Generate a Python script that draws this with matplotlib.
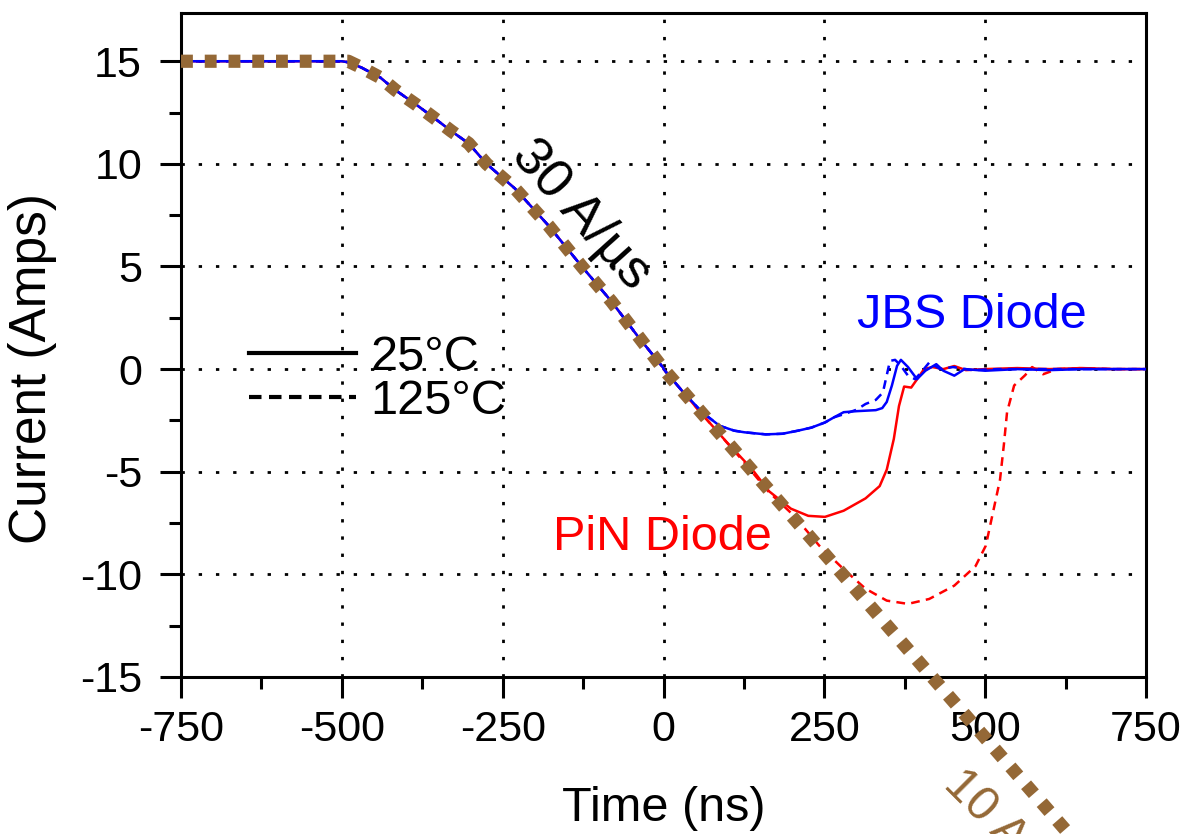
import matplotlib
matplotlib.use("Agg")
import matplotlib.pyplot as plt
from matplotlib.lines import Line2D
from matplotlib.ticker import MultipleLocator

plt.rcParams['font.family'] = ['Liberation Sans', 'DejaVu Sans']
plt.rcParams['axes.unicode_minus'] = False

# common turn-off ramp (all four curves sit on it before t = 0)
ramp_t = [-750, -700, -600, -500, -490, -470, -440, -417, -385, -355, -330, -303,
          -275, -231, -179, -127, -81, -40, 0]
ramp_i = [15.0, 15.0, 15.0, 15.0, 14.95, 14.7, 14.2, 13.6, 12.9, 12.2, 11.6, 11.0,
          10.0, 8.8, 7.0, 5.0, 3.3, 1.6, 0.05]

# JBS diode, 25C
jbs25_t = [0, 30, 60, 87, 110, 126, 159, 185, 209, 230, 251, 265, 280, 300, 330, 340,
           347, 355, 363, 369, 380, 394, 407, 424, 435, 452, 468, 500, 550, 600, 650, 700, 750]
jbs25_i = [0, -1.1, -2.1, -2.76, -3.0, -3.08, -3.18, -3.15, -3.0, -2.85, -2.6, -2.35,
           -2.1, -2.05, -2.0, -1.9, -1.6, -0.8, 0.16, 0.45, 0.1, -0.49, -0.08, 0.24,
           -0.08, -0.32, 0.0, -0.08, 0.0, -0.05, 0.0, 0.0, 0.0]

# JBS diode, 125C
jbs125_t = [0, 30, 60, 87, 110, 126, 159, 185, 209, 230, 251, 265, 280, 300, 314, 330,
            341, 352, 360, 369, 380, 391, 402, 413, 430, 450, 480, 520, 600, 700, 750]
jbs125_i = [0, -1.1, -2.1, -2.76, -3.0, -3.08, -3.18, -3.15, -3.0, -2.85, -2.6, -2.35,
            -2.2, -1.98, -1.7, -1.5, -1.14, 0.4, 0.45, 0.16, -0.32, -0.49, -0.1, 0.32,
            0.0, 0.1, -0.05, 0.0, 0.0, 0.0, 0.0]

# PiN diode, 25C
pin25_t = [0, 30, 60, 98, 137, 164, 198, 225, 251, 280, 314, 336, 347, 358, 366, 374,
           385, 394, 405, 418, 435, 452, 470, 500, 550, 600, 650, 700, 750]
pin25_i = [0, -1.1, -2.2, -3.55, -4.85, -5.95, -6.8, -7.15, -7.2, -6.9, -6.3, -5.7,
           -4.9, -3.4, -1.8, -0.85, -0.9, -0.5, 0.0, 0.1, 0.0, 0.15, -0.05, 0.0, 0.05,
           0.0, 0.05, 0.0, 0.0]

# PiN diode, 125C
pin125_t = [0, 60, 120, 164, 203, 242, 280, 314, 347, 380, 413, 452, 485, 501, 512,
            523, 529, 534, 545, 562, 573, 590, 612, 650, 700, 750]
pin125_i = [0, -2.2, -4.35, -6.0, -7.15, -8.6, -9.75, -10.7, -11.28, -11.44, -11.2,
            -10.55, -9.6, -8.6, -7.0, -5.4, -3.7, -2.1, -0.8, -0.3, 0.1, -0.25, 0.0,
            0.05, 0.0, 0.0]

# di/dt guide line
guide_t = [-750, -490, -470, -440, -417, -385, -355, -330, -303, -275, -231, -179,
           -127, -81, 0, 640]
guide_i = [15.0, 15.0, 14.7, 14.2, 13.6, 12.9, 12.2, 11.6, 11.0, 10.0, 8.8, 7.0,
           5.0, 3.3, 0.0, -23.0]

brown = '#946836'

fig = plt.figure(figsize=(11.8, 8.34), dpi=100)
ax = fig.add_axes([0.1534, 0.1883, 0.8178, 0.7961])

lw = 1.8
ax.plot(ramp_t + pin25_t, ramp_i + pin25_i, color='red', lw=lw, zorder=3)
ax.plot(ramp_t + pin125_t, ramp_i + pin125_i, color='red', lw=lw,
        dashes=(3.5, 2.5), zorder=3)
ax.plot(ramp_t + jbs25_t, ramp_i + jbs25_i, color='blue', lw=lw, zorder=4)
ax.plot(ramp_t + jbs125_t, ramp_i + jbs125_i, color='blue', lw=lw,
        dashes=(3.5, 2.5), zorder=4)
ax.plot(guide_t, guide_i, color=brown, lw=9.5, dashes=(0.9, 0.9),
        dash_capstyle='butt', clip_on=False, zorder=6)

ax.set_xlim(-750, 750)
ax.set_ylim(-15, 17.35)
ax.xaxis.set_major_locator(MultipleLocator(250))
ax.xaxis.set_minor_locator(MultipleLocator(125))
ax.yaxis.set_major_locator(MultipleLocator(5))
ax.yaxis.set_minor_locator(MultipleLocator(2.5))
ax.tick_params(which='both', direction='out', width=2.2, labelsize=31)
ax.tick_params(axis='x', pad=9)
ax.tick_params(axis='y', pad=13)
ax.tick_params(which='major', length=15)
ax.tick_params(which='minor', length=8.5)
for s in ax.spines.values():
    s.set_linewidth(2.2)

ax.grid(True, which='major', color='black', lw=2.0, dashes=(1.2, 5))
ax.set_axisbelow(True)

ax.set_xlabel('Time (ns)', fontsize=35, labelpad=26)
ax.set_ylabel('Current (Amps)', fontsize=37)
ax.yaxis.set_label_coords(-0.128, 0.465)

ax.text(480, 2.6, 'JBS Diode', color='blue', fontsize=35, ha='center', va='center')
ax.text(-2, -8.2, 'PiN Diode', color='red', fontsize=35, ha='center', va='center')
ax.text(-128, 7.5, '30 A/µs', color='black', fontsize=39, ha='center', va='center',
        rotation=-48, rotation_mode='anchor')
ax.text(433, -20.3, '10 A/µs', color=brown, fontsize=35, ha='left', va='baseline',
        rotation=-45, rotation_mode='anchor', clip_on=False)

handles = [Line2D([], [], color='black', lw=3),
           Line2D([], [], color='black', lw=3, dashes=(3, 1.8))]
ax.legend(handles, ['25°C', '125°C'], loc='upper left', bbox_to_anchor=(0.045, 0.552),
          frameon=False, fontsize=35, handlelength=2.2, handletextpad=0.3,
          labelspacing=-0.02, borderpad=0)

fig.savefig('out.png', dpi=100)
